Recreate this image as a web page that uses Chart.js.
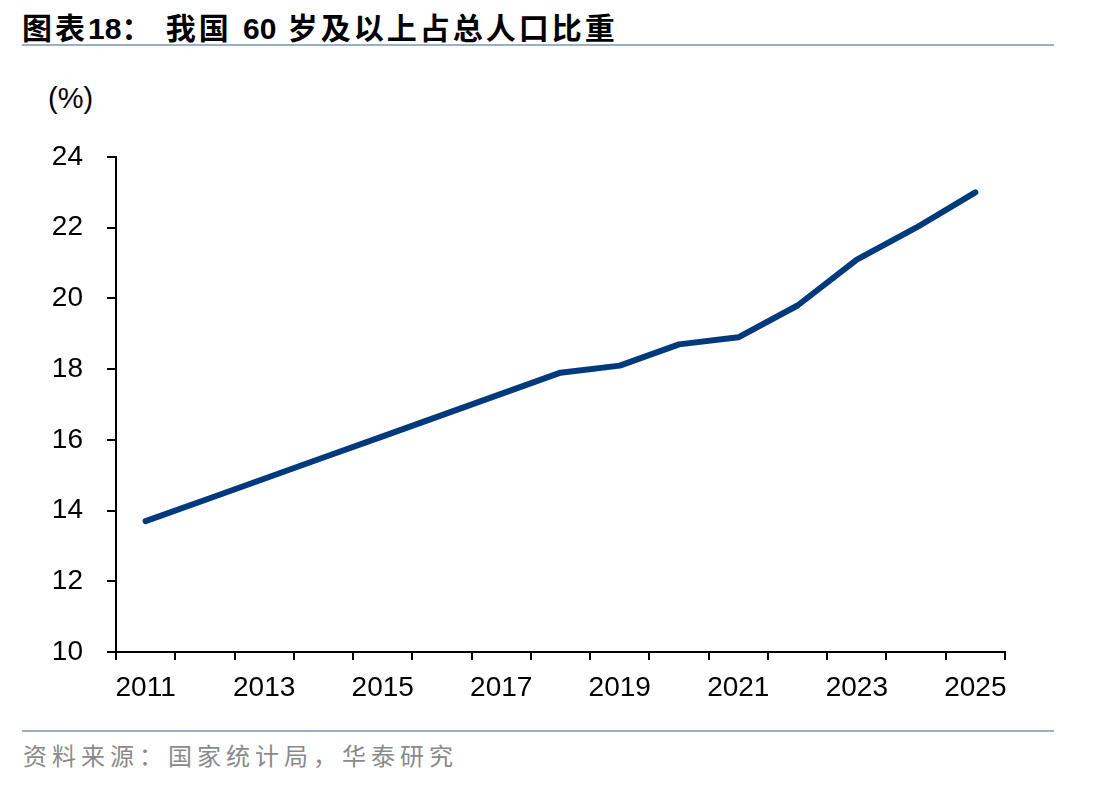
<!DOCTYPE html>
<html>
<head>
<meta charset="utf-8">
<script src="https://cdn.jsdelivr.net/npm/chart.js@4"></script>
<style>
  body { margin: 0; width: 1112px; height: 786px; background: #fff; position: relative; overflow: hidden; }
  #title { position: absolute; left: 22px; top: 4px; font: bold 30px "Liberation Sans", "Noto Sans CJK SC", sans-serif; letter-spacing: 3px; color: #000; white-space: nowrap; }
  #title .num { letter-spacing: 0; }
  .rule { position: absolute; left: 22px; width: 1032px; height: 2px; background: #9bb0c8; }
  #unit { position: absolute; left: 48px; top: 82px; font: 29px "Liberation Sans", Arial, sans-serif; color: #000; }
  #source { position: absolute; left: 23px; top: 737px; font: 24px "Noto Sans CJK SC", sans-serif; letter-spacing: 5px; color: #8a8a8a; white-space: nowrap; }
  #wrap { position: absolute; left: 0; top: 60px; width: 1060px; height: 660px; }
</style>
</head>
<body>
<div id="title">图表<span class="num">18</span>： 我国 <span class="num">60</span> 岁及以上占总人口比重</div>
<div class="rule" style="top:44px"></div>
<div id="unit">(%)</div>
<div id="wrap"><canvas id="chart"></canvas></div>
<div class="rule" style="top:730px"></div>
<div id="source">资料来源：国家统计局，华泰研究</div>
<script>
const years = ["2011", "2012", "2013", "2014", "2015", "2016", "2017", "2018",
  "2019", "2020", "2021", "2022", "2023", "2024", "2025"];
const shareOver60 = [13.7, 14.3, 14.9, 15.5, 16.1, 16.7, 17.3, 17.9,
  18.1, 18.7, 18.9, 19.8, 21.1, 22.0, 23.0];
const yTicks = [10, 12, 14, 16, 18, 20, 22, 24];

const ctx = document.getElementById("chart");

new Chart(ctx, {
  type: "line",
  data: {
    labels: years,
    datasets: [
      {
        data: shareOver60,
        borderColor: "#003a7d",
        borderWidth: 6,
        borderCapStyle: "round",
        borderJoinStyle: "round",
        pointRadius: 0,
        tension: 0,
        fill: false,
      },
    ],
  },
  options: {
    responsive: true,
    maintainAspectRatio: false,
    animation: false,
    layout: { padding: { top: 97, right: 55, left: 0, bottom: 0 } },
    plugins: { legend: { display: false }, tooltip: { enabled: false } },
    scales: {
      x: {
        offset: true,
        grid: { offset: true, drawOnChartArea: false, color: "#000", lineWidth: 2, tickLength: 8 },
        border: { color: "#000", width: 2 },
        ticks: {
          autoSkip: false,
          maxRotation: 0,
          padding: 11,
          color: "#000",
          font: { family: "Liberation Sans", size: 28 },
          // every other year gets a label, ticks stay on all boundaries
          callback: (val, i) => (i % 2 === 0 ? years[i] : ""),
        },
        afterFit: (scale) => { scale.height = 68; },
      },
      y: {
        min: 10,
        max: 24,
        afterBuildTicks: (scale) => { scale.ticks = yTicks.map((v) => ({ value: v })); },
        grid: { drawOnChartArea: false, color: "#000", lineWidth: 2, tickLength: 9 },
        border: { color: "#000", width: 2 },
        ticks: {
          padding: 24,
          color: "#000",
          font: { family: "Liberation Sans", size: 28 },
        },
        afterFit: (scale) => { scale.width = 116; },
      },
    },
  },
});
</script>
</body>
</html>
